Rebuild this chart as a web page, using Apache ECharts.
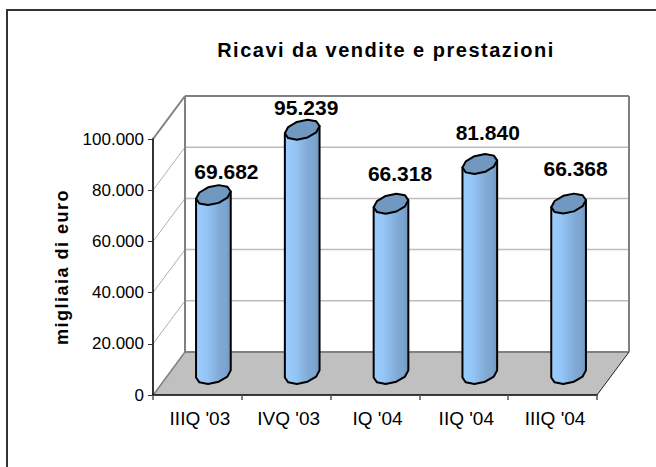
<!DOCTYPE html>
<html>
<head>
<meta charset="utf-8">
<style>html,body{margin:0;padding:0;background:#fff}#chart{width:656px;height:467px}</style>
<script src="https://cdn.jsdelivr.net/npm/echarts@6/dist/echarts.min.js"></script>
</head>
<body>
<div id="chart"></div>
<script>
var categories = ["IIIQ '03", "IVQ '03", "IQ '04", "IIQ '04", "IIIQ '04"];
var ricavi = [69682, 95239, 66318, 81840, 66368];
var yTicks = [0, 20000, 40000, 60000, 80000, 100000];
// le etichette nell'originale sono spostate a mano
var labelShift = [[13, -24], [4, -22], [9, -30], [8, -31], [7, -35]];

var TITLE = 'Ricavi da vendite e prestazioni';
var Y_NAME = 'migliaia di euro';
var FONT = '"Liberation Sans", Arial, sans-serif';
var DX = 32, DY = -43;		// profondita del grafico 3D

function fmt(v){
	return String(v).replace(/\B(?=(\d{3})+$)/g, '.');
}

// cerchio sul pavimento visto in prospettiva
function ringPoint(cx, cy, t){
	var A = 16.2, B = 6.2, C = 10;
	return [cx + A * Math.cos(t) + B * Math.sin(t), cy - C * Math.sin(t)];
}

function renderRoom(params, api){
	var v = api.value(0);
	var p = api.coord([0, v]);
	var band = api.size([1, 0])[0];
	var x0 = p[0] - band / 2;
	var y = p[1];
	var x1 = x0 + band * categories.length;
	var kids = [];
	var thick = {stroke: '#808080', lineWidth: 2, fill: null};
	if(v == 0){
		kids.push({type: 'polygon', shape: {points: [[x0, y], [x0 + DX, y + DY], [x1 + DX, y + DY], [x1, y]]},
			style: {fill: '#c0c0c0'}});
		kids.push({type: 'line', shape: {x1: x0 + DX, y1: y + DY, x2: x1 + DX, y2: y + DY}, style: thick});
		kids.push({type: 'line', shape: {x1: x0 + 1, y1: y - 1, x2: x0 + DX, y2: y + DY}, style: {stroke: '#808080', lineWidth: 1.5}});
		kids.push({type: 'line', shape: {x1: x1, y1: y, x2: x1 + DX, y2: y + DY}, style: {stroke: '#222', lineWidth: 1}});
	}else if(v == 100000){
		kids.push({type: 'line', shape: {x1: x0 + DX, y1: y + DY, x2: x1 + DX, y2: y + DY}, style: thick});
		kids.push({type: 'line', shape: {x1: x0, y1: y, x2: x0 + DX, y2: y + DY}, style: thick});
		kids.push({type: 'line', shape: {x1: x0 + DX, y1: y + DY, x2: x0 + DX, y2: api.coord([0, 0])[1] + DY}, style: thick});
		kids.push({type: 'line', shape: {x1: x1 + DX, y1: y + DY, x2: x1 + DX, y2: api.coord([0, 0])[1] + DY}, style: thick});
	}else{
		kids.push({type: 'line', shape: {x1: x0 + DX, y1: y + DY, x2: x1 + DX, y2: y + DY}, style: {stroke: '#bcbcbc', lineWidth: 1.5}});
		kids.push({type: 'line', shape: {x1: x0, y1: y, x2: x0 + DX, y2: y + DY}, style: {stroke: '#b0b0b0', lineWidth: 1}});
	}
	return {type: 'group', children: kids};
}

function renderCylinder(params, api){
	var i = api.value(0), v = api.value(1);
	var top = api.coord([i, v]);
	var base = api.coord([i, 0]);
	var cx = top[0] + DX * 0.5;
	var topY = top[1] + DY * 0.5;
	var baseY = base[1] + DY * 0.49;
	var t0 = Math.atan(6.2 / 16.2);
	var body = [ringPoint(cx, topY, Math.PI + t0)];
	for(var k = 0; k <= 5; k++){
		body.push(ringPoint(cx, baseY, Math.PI + t0 + Math.PI * k / 5));
	}
	body.push(ringPoint(cx, topY, t0));
	var cap = [];
	for(var j = 0; j < 10; j++){
		cap.push(ringPoint(cx, topY, t0 + Math.PI * 2 * j / 10));
	}
	var shift = labelShift[i];
	return {type: 'group', children: [
		{type: 'polygon', shape: {points: body}, style: {
			fill: new echarts.graphic.LinearGradient(0, 0, 1, 0, [
				{offset: 0, color: '#9accfe'}, {offset: 0.3, color: '#94c5f6'},
				{offset: 0.5, color: '#8ab6e4'}, {offset: 0.7, color: '#7fa9d4'},
				{offset: 0.85, color: '#7ca5cf'}, {offset: 1, color: '#6e96c0'}
			]),
			stroke: '#000', lineWidth: 2, lineJoin: 'round'
		}},
		{type: 'polygon', shape: {points: cap}, style: {fill: '#7098c0', stroke: '#000', lineWidth: 2, lineJoin: 'round'}},
		{type: 'text', style: {
			x: cx + shift[0], y: topY + shift[1], text: fmt(v),
			fill: '#000', font: 'bold 21px ' + FONT, align: 'center', verticalAlign: 'middle'
		}}
	]};
}

var chart = echarts.init(document.getElementById('chart'), null, {renderer: 'svg'});
var option = {
	animation: false,
	backgroundColor: '#fff',
	title: {
		text: TITLE,
		left: 381, top: 35, textAlign: 'center',
		textStyle: {fontFamily: FONT, fontSize: 20, fontWeight: 'bold', color: '#000'}
	},
	graphic: [{
		type: 'polyline',
		shape: {points: [[7, 467], [7, 10], [656, 10]]},
		style: {stroke: '#333', lineWidth: 2, fill: null},
		silent: true
	}],
	grid: {left: 153, right: 59, top: 139, bottom: 72},
	xAxis: {
		type: 'category',
		data: categories,
		z: 5,
		axisLine: {lineStyle: {color: '#000', width: 1.5}},
		axisTick: {show: true, alignWithLabel: false, length: 5, lineStyle: {color: '#555', width: 1.5}},
		axisLabel: {fontFamily: FONT, fontSize: 19, color: '#000', margin: 14, padding: [0, 0, 0, 5], interval: 0}
	},
	yAxis: {
		type: 'value',
		min: 0, max: 100000, interval: 20000,
		name: Y_NAME,
		nameLocation: 'middle',
		nameGap: 82,
		nameRotate: 90,
		nameTextStyle: {fontFamily: FONT, fontSize: 18, fontWeight: 'bold', color: '#000'},
		z: 5,
		axisLine: {show: true, lineStyle: {color: '#333', width: 2}},
		axisTick: {show: true, length: 5, lineStyle: {color: '#333', width: 1}},
		axisLabel: {fontFamily: FONT, fontSize: 17, color: '#000', margin: 9, formatter: fmt},
		splitLine: {show: false}
	},
	series: [
		{type: 'custom', z: 1, silent: true, renderItem: renderRoom, data: yTicks.map(function(t){ return [t]; }), encode: {y: 0}},
		{type: 'custom', z: 6, renderItem: renderCylinder,
			data: ricavi.map(function(r, i){ return [i, r]; }), encode: {x: 0, y: 1}}
	]
};
chart.setOption(option);

// titolo e nome asse hanno le lettere piu larghe nell'originale
var texts = document.querySelectorAll('#chart svg text');
for(var n = 0; n < texts.length; n++){
	if(texts[n].textContent == TITLE || texts[n].textContent == Y_NAME){
		texts[n].style.letterSpacing = '1.5px';
	}
}
</script>
</body>
</html>
